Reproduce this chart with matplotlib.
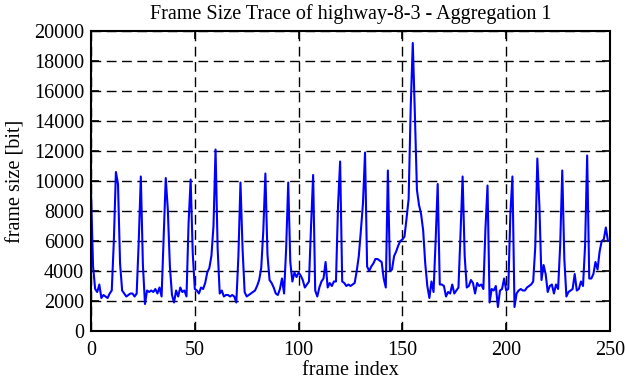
import numpy as np
import matplotlib.pyplot as plt

plt.rcParams['font.family'] = ['Liberation Serif', 'DejaVu Serif']

# frame sizes [bit], one per frame
frame_size = [
    9200, 4300, 2800, 2600, 3100, 2200, 2400, 2300, 2200, 2500,   # 0-9
    2700, 6000, 10600, 9800, 4500, 2700, 2500, 2300, 2400, 2500,  # 10-19
    2500, 2300, 2500, 6000, 10300, 4400, 1800, 2700, 2600, 2700,  # 20-29
    2600, 2800, 2500, 2900, 2300, 6300, 10200, 8100, 4300, 2400,  # 30-39
    1900, 2700, 2300, 2900, 2600, 2700, 2300, 7200, 10100, 5200,  # 40-49
    2800, 2700, 2500, 2900, 2800, 3200, 3900, 4200, 5000, 7000,   # 50-59
    12100, 5500, 2500, 2700, 2300, 2400, 2400, 2300, 2400, 2300,  # 60-69
    1900, 5000, 9900, 5500, 2600, 2300, 2400, 2500, 2600, 2700,   # 70-79
    3000, 3400, 4200, 6700, 10500, 5100, 3400, 3200, 2900, 2500,  # 80-89
    2400, 2800, 3500, 2500, 5500, 9900, 4600, 3300, 3900, 3600,   # 90-99
    3900, 3700, 3400, 2900, 3100, 3300, 7000, 10400, 2700, 2300,  # 100-109
    2900, 3300, 3500, 4600, 2900, 3200, 3000, 3300, 3300, 8400,   # 110-119
    11300, 3300, 3200, 3000, 3100, 3000, 3100, 3200, 4000, 5000,  # 120-129
    6700, 8500, 11900, 4300, 4000, 4300, 4500, 4800, 4800, 4700,  # 130-139
    4600, 3500, 2900, 10700, 4000, 4100, 5000, 5300, 5700, 6000,  # 140-149
    6100, 6300, 7500, 8800, 14900, 19200, 14500, 9400, 8400, 7800, # 150-159
    6700, 4500, 3000, 2200, 3300, 2600, 6000, 9800, 3100, 3100,   # 160-169
    3000, 2300, 2600, 2500, 3100, 2500, 2700, 2900, 6500, 10300,  # 170-179
    5000, 2900, 3000, 3400, 3200, 2500, 3200, 3000, 3100, 2800,   # 180-189
    6800, 9700, 1900, 2800, 2700, 3000, 1600, 2700, 2800, 3500,   # 190-199
    2700, 2800, 7800, 10300, 1600, 2500, 2700, 2800, 2700, 2700,  # 200-209
    2900, 3000, 3100, 3300, 5600, 11500, 8300, 3400, 4400, 3800,  # 210-219
    2600, 3000, 3100, 2500, 3100, 2800, 5700, 10700, 4800, 2300,  # 220-229
    2600, 2700, 2800, 3800, 2700, 2800, 3300, 3000, 5700, 11700,  # 230-239
    3500, 3500, 3800, 4600, 4100, 5300, 6000, 6100, 6900, 6000,   # 240-249
]
frame_index = np.arange(len(frame_size))

x_ticks = [0, 50, 100, 150, 200, 250]
y_ticks = [0, 2000, 4000, 6000, 8000, 10000, 12000, 14000, 16000, 18000, 20000]

fig = plt.figure(figsize=(6.26, 3.82), dpi=100)
ax = fig.add_axes([91/626, 1-331/382, 519/626, 300/382])

ax.plot(frame_index, frame_size, color='#0000ff', lw=1.5)

ax.set_xlim(0, 250)
ax.set_ylim(0, 20000)
ax.set_xticks(x_ticks)
ax.set_yticks(y_ticks)
ax.tick_params(direction='in', length=6, width=1.2, top=True, right=True,
               labelsize=14.5, pad=5)
ax.tick_params(axis='x', pad=7)
ax.grid(True, color='black', linestyle=(0, (7, 4)), linewidth=1.0)
for s in ax.spines.values():
    s.set_linewidth(1.5)

ax.set_title('Frame Size Trace of highway-8-3 - Aggregation 1', fontsize=14.5, pad=9)
ax.set_xlabel('frame index', fontsize=14.5, labelpad=1)
ax.set_ylabel('frame size [bit]', fontsize=14.5, labelpad=6)

plt.savefig('out.png', dpi=100)
